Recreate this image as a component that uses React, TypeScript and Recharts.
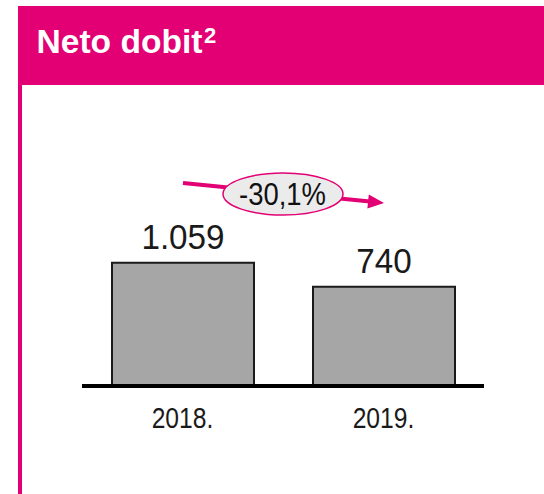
import React from 'react';
import { BarChart, Bar, XAxis, YAxis, LabelList } from 'recharts';

const years = ['2018.', '2019.'];
const netProfit = [1059, 740];
// the source chart does not start its value axis at zero
const axisFloor = -577;
const axisCeiling = 1600;
const changeLabel = '-30,1%';
const title = 'Neto dobit';

const MAGENTA = '#E20074';
const FONT = '"Liberation Sans", Arial, sans-serif';

const data = years.map((year, i) => ({
  year,
  range: [axisFloor, netProfit[i]],
}));

// 1059 -> "1.059"
const fmt = (v: number) => String(v).replace(/\B(?=(\d{3})+(?!\d))/g, '.');

// rough Arial advance widths, used to squeeze text to the narrow original face
const advance = (s: string) =>
  s.split('').reduce((w, c) => {
    if (c === '.' || c === ',') return w + 0.278;
    if (c === '-') return w + 0.333;
    if (c === '%') return w + 0.889;
    return w + 0.556;
  }, 0);

const NarrowText = ({ x, y, size, squeeze, children, fill = '#1a1a1a' }: any) => (
  <text
    x={x}
    y={y}
    textAnchor="middle"
    fontSize={size}
    fontFamily={FONT}
    fill={fill}
    textLength={advance(String(children)) * size * squeeze}
    lengthAdjust="spacingAndGlyphs"
  >
    {children}
  </text>
);

const ValueLabel = (props: any) => {
  const { x, y, width, index } = props;
  return (
    <NarrowText x={x + width / 2} y={y - 13.5} size={35} squeeze={0.95}>
      {fmt(netProfit[index])}
    </NarrowText>
  );
};

const YearTick = (props: any) => {
  const { x, y, payload } = props;
  return (
    <NarrowText x={x} y={y + 36} size={29} squeeze={0.85}>
      {payload.value}
    </NarrowText>
  );
};

function Overlay() {
  // change arrow
  const x1 = 183, y1 = 183, x2 = 384, y2 = 203;
  const len = Math.hypot(x2 - x1, y2 - y1);
  const ux = (x2 - x1) / len, uy = (y2 - y1) / len;
  const head = 16, half = 7;
  const bx = x2 - ux * head, by = y2 - uy * head;
  const pts = `${x2},${y2} ${bx - uy * half},${by + ux * half} ${bx + uy * half},${by - ux * half}`;

  return (
    <svg
      width={544}
      height={494}
      style={{ position: 'absolute', left: 0, top: 0, pointerEvents: 'none' }}
    >
      <rect x={18} y={6} width={526} height={79} fill={MAGENTA} />
      <rect x={18} y={85} width={4} height={409} fill={MAGENTA} />
      <text
        x={36.5}
        y={53}
        fontSize={33}
        fontWeight="bold"
        fontFamily={FONT}
        fill="#fff"
        textLength={166}
        lengthAdjust="spacingAndGlyphs"
      >
        {title}
      </text>
      <text x={204} y={43} fontSize={22} fontWeight="bold" fontFamily={FONT} fill="#fff">
        2
      </text>

      <line x1={x1} y1={y1} x2={bx + ux * 2} y2={by + uy * 2} stroke={MAGENTA} strokeWidth={4} />
      <polygon points={pts} fill={MAGENTA} />
      <ellipse cx={283} cy={194} rx={60} ry={21} fill="#EBEBEB" stroke={MAGENTA} strokeWidth={1.5} />
      <NarrowText x={282.5} y={205} size={30.5} squeeze={0.9} fill="#111">
        {changeLabel}
      </NarrowText>
    </svg>
  );
}

export default function App() {
  return (
    <div style={{ position: 'absolute', left: 0, top: 0, width: 544, height: 494, background: '#fff' }}>
      <BarChart
        width={544}
        height={494}
        data={data}
        margin={{ top: 222, right: 60, left: 82, bottom: 48 }}
        barCategoryGap={0}
      >
        <YAxis hide type="number" domain={[axisFloor, axisCeiling]} allowDataOverflow />
        <XAxis
          dataKey="year"
          height={60}
          tickLine={false}
          tickMargin={0}
          axisLine={{ stroke: '#000', strokeWidth: 4 }}
          tick={<YearTick />}
        />
        <Bar
          dataKey="range"
          barSize={142}
          fill="#A6A6A6"
          stroke="#1a1a1a"
          strokeWidth={2}
          isAnimationActive={false}
        >
          <LabelList dataKey="range" content={<ValueLabel />} />
        </Bar>
      </BarChart>
      <Overlay />
    </div>
  );
}
